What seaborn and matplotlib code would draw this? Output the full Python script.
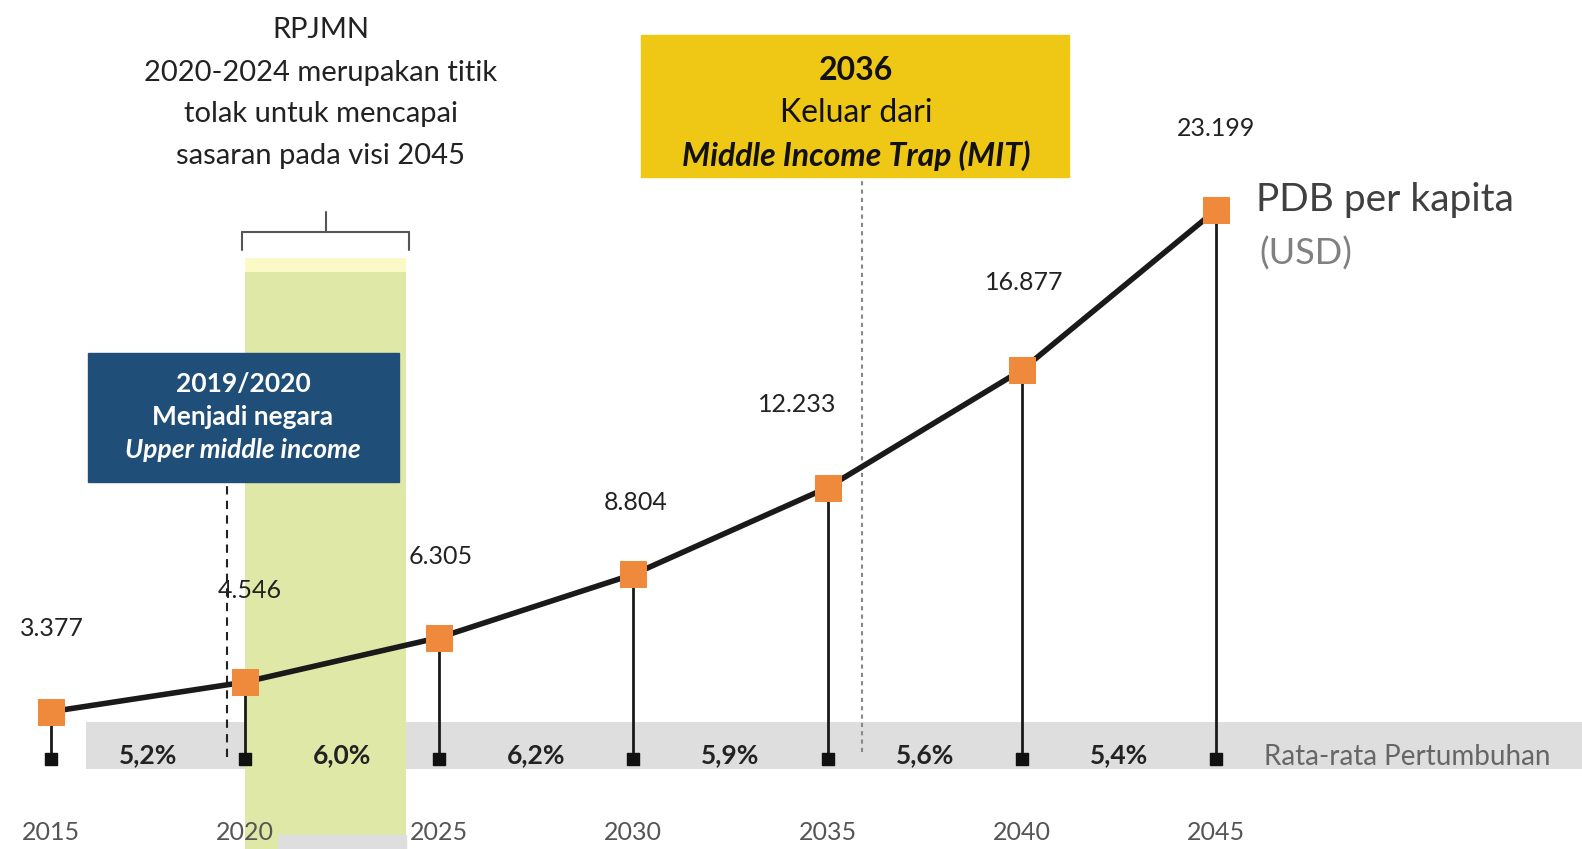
import numpy as np
import pandas as pd
import matplotlib.pyplot as plt
import matplotlib.patches as mpatches
import seaborn as sns

years = [2015, 2020, 2025, 2030, 2035, 2040, 2045]
gdp = [3377, 4546, 6305, 8804, 12233, 16877, 23199]
growth = [5.2, 6.0, 6.2, 5.9, 5.6, 5.4]
rpjmn_start, rpjmn_end = 2020, 2024.15
umi_year, mit_year = 2019.55, 2035.9

rpjmn_text = ["RPJMN", "2020-2024 merupakan titik", "tolak untuk mencapai", "sasaran pada visi 2045"]
mit_text = ["2036", "Keluar dari", "Middle Income Trap (MIT)"]
umi_text = ["2019/2020", "Menjadi negara", "Upper middle income"]

W, H = 1582, 849
sns.set_theme(style="white")
plt.rcParams['font.family'] = ['Lato', 'DejaVu Sans']

fig = plt.figure(figsize=(W / 100, H / 100), dpi=100)
ax = fig.add_axes([0, 0, 1, 1])
ax.set_xlim(2013.70, 2054.42)
ax.set_ylim(-2047, 31497)
ax.axis('off')

def P(x, y):
    return (x / W, 1 - y / H)

def yv(py):
    return (797.2 - py) / 0.02531

base = yv(759)

# bands
ax.axhspan(yv(769), yv(722), xmin=86 / W, xmax=1, color="#dedede", zorder=0, lw=0)
ax.axvspan(rpjmn_start, rpjmn_end, ymin=0, ymax=1 - 258 / H, color="#dfe8a6", zorder=1, lw=0)
ax.axvspan(rpjmn_start, rpjmn_end, ymin=1 - 272 / H, ymax=1 - 258 / H, color="#fbf9c6", zorder=1, lw=0)
fig.add_artist(mpatches.Rectangle(P(278, 849), (406 - 278) / W, 14 / H,
                                  transform=fig.transFigure, color="#dedede", zorder=1))

# bracket over RPJMN
bx0, bx1 = 242, 409
fig.add_artist(plt.Line2D([bx0 / W, bx1 / W], [1 - 232 / H] * 2, color="#555555", lw=1.5))
for bx in (bx0, bx1):
    fig.add_artist(plt.Line2D([bx / W] * 2, [1 - 232 / H, 1 - 250 / H], color="#555555", lw=1.5))
fig.add_artist(plt.Line2D([325.5 / W] * 2, [1 - 212 / H, 1 - 232 / H], color="#555555", lw=1.5))

# stems and base markers
for x, v in zip(years, gdp):
    ax.plot([x, x], [base, v], color="#1a1a1a", lw=2, zorder=2)
ax.scatter(years, [base] * len(years), marker='s', s=70, color="#111111", zorder=3)

# main line
sns.lineplot(x=years, y=gdp, ax=ax, color="#1a1a1a", lw=4, zorder=4,
             marker='s', markersize=19, markerfacecolor="#ef8a3c", markeredgecolor="#ef8a3c")

# value labels
val_pos = [(52, 628), (250, 591), (441, 557), (636, 502), (797, 404), (1024, 283), (1216, 129)]
for v, (px, py) in zip(gdp, val_pos):
    fig.text(*P(px, py), f"{v:,}".replace(",", "."), ha='center', va='center', fontsize=18, color="#222222")

# growth labels
for i, g in enumerate(growth):
    xm = (years[i] + years[i + 1]) / 2
    ax.text(xm, yv(755), f"{g:.1f}".replace(".", ",") + "%", ha='center', va='center',
            fontsize=19, fontweight='bold', color="#222222", zorder=5)
fig.text(*P(1264, 757), "Rata-rata Pertumbuhan", ha='left', va='center', fontsize=20, color="#666666")

# year labels
for x in years:
    ax.text(x, yv(833), str(x), ha='center', va='center', fontsize=18, color="#555555")

# RPJMN text
for t, py in zip(rpjmn_text, [30, 73, 114, 156]):
    fig.text(*P(321, py), t, ha='center', va='center', fontsize=21, color="#222222")

# MIT box
fig.add_artist(mpatches.Rectangle(P(641, 177), (1069 - 641) / W, (177 - 35) / H,
                                  transform=fig.transFigure, color="#efc815", zorder=1))
for t, py, st, wt in zip(mit_text, [71, 113, 156], ['normal', 'normal', 'italic'], ['bold', 'normal', 'bold']):
    fig.text(*P(856, py), t, ha='center', va='center', fontsize=23, style=st, fontweight=wt, color="#111111")
ax.plot([mit_year, mit_year], [yv(752), yv(177)], color="#888888", lw=1.5, ls=(0, (2, 2)), zorder=2)

# UMI box
fig.add_artist(mpatches.Rectangle(P(88, 482), (399 - 88) / W, (482 - 353) / H,
                                  transform=fig.transFigure, color="#1f4e79", zorder=1))
for t, py, st, wt in zip(umi_text, [384, 417, 450], ['normal', 'normal', 'italic'], ['bold', 'bold', 'bold']):
    fig.text(*P(243, py), t, ha='center', va='center', fontsize=19, style=st, fontweight=wt, color="white")
ax.plot([umi_year, umi_year], [yv(757), yv(482)], color="#222222", lw=1.5, ls=(0, (4, 3)), zorder=2)

# title
fig.text(*P(1256, 200), "PDB per kapita", ha='left', va='center', fontsize=28, color="#404040")
fig.text(*P(1259, 254), "(USD)", ha='left', va='center', fontsize=26, color="#808080")

fig.savefig("out.png", dpi=100)
